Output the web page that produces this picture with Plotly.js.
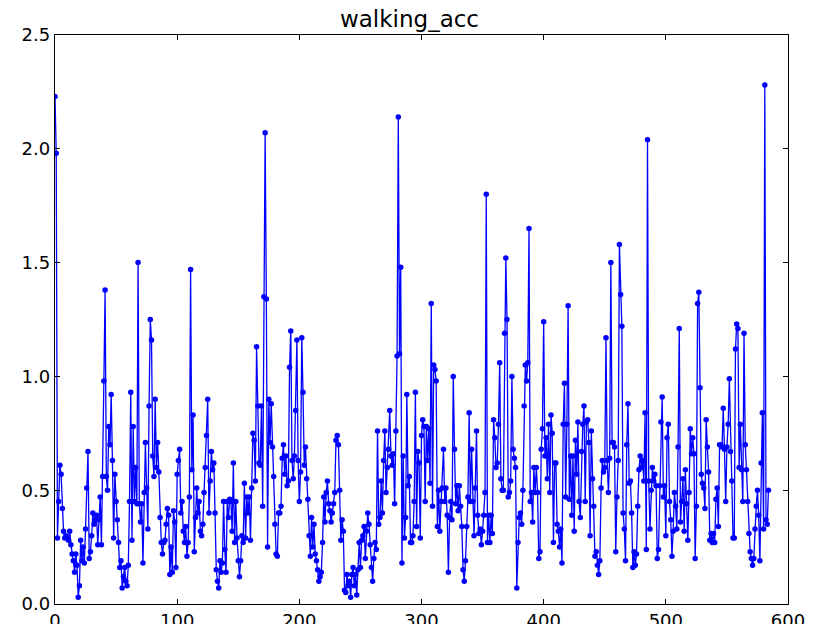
<!DOCTYPE html>
<html>
<head>
<meta charset="utf-8">
<script src="https://cdn.plot.ly/plotly-3.0.1.min.js"></script>
<style>html,body{margin:0;padding:0;background:#fff;}#chart{width:819px;height:624px;}</style>
</head>
<body>
<div id="chart"></div>
<script>
var chartTitle = "walking_acc";
var xTickVals = [0, 100, 200, 300, 400, 500, 600];
var yTickVals = [0.0, 0.5, 1.0, 1.5, 2.0, 2.5];
var accValues = [
2.23,1.98,0.29,0.45,0.61,0.57,0.42,0.32,0.29,0.30,
0.29,0.28,0.32,0.26,0.22,0.19,0.14,0.22,0.17,0.03,
0.08,0.28,0.19,0.25,0.18,0.33,0.51,0.67,0.20,0.23,
0.30,0.40,0.35,0.37,0.39,0.26,0.37,0.47,0.26,0.56,
0.98,1.38,0.56,0.50,0.78,0.70,0.92,0.63,0.29,0.57,
0.45,0.37,0.27,0.16,0.19,0.07,0.12,0.16,0.10,0.08,
0.17,0.45,0.93,0.28,0.78,0.45,0.60,0.44,1.50,0.44,
0.36,0.44,0.18,0.49,0.71,0.51,0.33,0.87,1.25,1.16,
0.65,0.56,0.90,0.60,0.71,0.58,0.38,0.27,0.22,0.27,
0.28,0.35,0.42,0.39,0.13,0.25,0.14,0.41,0.36,0.16,
0.57,0.63,0.68,0.40,0.45,0.32,0.27,0.34,0.21,0.27,
0.47,1.47,0.59,0.83,0.23,0.38,0.51,0.40,0.45,0.32,
0.30,0.35,0.49,0.60,0.74,0.90,0.40,0.54,0.67,0.59,
0.62,0.40,0.15,0.10,0.07,0.19,0.14,0.18,0.45,0.24,
0.14,0.45,0.38,0.46,0.45,0.32,0.62,0.27,0.45,0.29,
0.19,0.12,0.19,0.30,0.27,0.53,0.29,0.47,0.40,0.47,
0.28,0.51,0.75,0.72,0.54,1.13,0.87,0.62,0.61,0.87,
0.43,1.35,2.07,1.34,0.25,0.90,0.71,0.88,0.69,0.56,
0.35,0.22,0.21,0.40,0.40,0.43,0.64,0.70,0.57,0.65,
0.52,0.54,1.04,1.20,0.63,0.55,0.65,0.85,1.16,0.63,
0.45,0.58,1.17,0.93,0.61,0.69,0.55,0.46,0.30,0.21,
0.38,0.25,0.35,0.22,0.19,0.15,0.10,0.12,0.14,0.27,
0.47,0.36,0.49,0.54,0.44,0.41,0.36,0.40,0.44,0.49,
0.72,0.74,0.70,0.50,0.28,0.37,0.32,0.06,0.05,0.13,
0.08,0.10,0.03,0.13,0.16,0.08,0.13,0.04,0.15,0.27,
0.16,0.28,0.30,0.34,0.20,0.32,0.40,0.35,0.26,0.16,
0.10,0.20,0.27,0.24,0.76,0.35,0.38,0.54,0.40,0.63,
0.76,0.49,0.60,0.68,0.85,0.65,0.61,0.66,0.44,0.76,
1.09,2.14,1.10,1.48,0.18,0.65,0.29,0.38,0.92,0.52,
0.56,0.27,0.27,0.30,0.45,0.93,0.34,0.67,0.62,0.29,
0.74,0.81,0.78,0.45,0.78,0.63,0.77,0.53,1.32,0.43,
1.05,1.03,0.98,0.34,0.50,0.32,0.45,0.51,0.68,0.45,
0.51,0.39,0.14,0.38,0.45,0.37,1.00,0.68,0.44,0.52,
0.41,0.52,0.43,0.34,0.15,0.10,0.19,0.34,0.47,0.84,
0.45,0.68,0.45,0.30,0.51,0.76,0.39,0.31,0.33,0.26,
0.32,0.39,0.49,1.80,0.27,0.39,0.27,0.39,0.31,0.81,
0.73,0.60,0.62,0.79,1.06,0.55,0.50,0.50,1.19,1.52,
1.25,0.47,0.49,0.54,1.00,0.68,0.64,0.60,0.07,0.27,
0.38,0.40,0.35,0.50,0.87,1.05,0.98,1.06,1.65,0.45,
0.49,0.36,0.60,0.49,0.60,0.49,0.20,0.23,0.68,0.77,
1.24,0.65,0.73,0.55,0.79,0.49,0.83,0.75,0.27,0.62,
0.62,0.35,0.32,0.25,0.33,0.18,0.79,0.97,0.47,0.79,
1.31,0.46,0.65,0.39,0.65,0.32,0.72,0.57,0.80,0.45,
0.38,0.67,0.79,0.87,0.45,0.80,0.81,0.71,0.30,0.76,
0.55,0.43,0.21,0.23,0.17,0.13,0.19,0.51,0.63,0.58,
0.60,1.17,0.63,0.49,0.64,1.50,0.71,0.71,0.69,0.23,
0.47,0.63,1.58,1.36,1.22,0.40,0.33,0.19,0.70,0.88,
0.53,0.54,0.40,0.16,0.23,0.17,0.22,0.43,0.59,0.65,
0.60,0.63,0.54,0.84,0.24,2.04,0.54,0.33,0.50,0.60,
0.54,0.57,0.52,0.20,0.24,0.52,0.80,0.91,0.47,0.52,
0.30,0.73,0.79,0.45,0.37,0.21,0.32,0.49,0.43,0.33,
0.69,1.21,0.36,0.45,0.55,0.32,0.59,0.44,0.28,0.49,
0.77,0.66,0.73,0.66,0.20,0.43,1.32,1.37,0.95,0.57,
0.53,0.51,0.42,0.81,0.69,0.58,0.28,0.31,0.27,0.31,
0.27,0.46,0.51,0.34,0.70,0.70,0.69,0.86,0.68,0.45,
0.69,0.79,0.99,0.67,0.54,0.29,0.29,1.12,1.23,1.21,
0.60,0.79,0.59,0.45,1.19,0.70,0.59,0.45,0.31,0.23,
0.20,0.17,0.20,0.33,0.43,0.50,0.39,0.19,0.62,0.84,
0.33,2.28,0.37,0.35,0.50
];
var sampleIndex = accValues.map(function(_, i){ return i; });

var trace = {
  x: sampleIndex,
  y: accValues,
  type: 'scatter',
  mode: 'lines+markers',
  line: {color: '#0000ff', width: 1.3},
  marker: {color: '#0000ff', size: 5.5, line: {width: 0}},
  hoverinfo: 'x+y'
};

var axisFont = {family: 'DejaVu Sans, sans-serif', size: 18, color: '#000'};
var layout = {
  width: 819, height: 624,
  margin: {l: 55, r: 31, t: 35, b: 20, pad: 0},
  paper_bgcolor: '#fff', plot_bgcolor: '#fff',
  showlegend: false,
  title: {text: chartTitle, font: {family: 'DejaVu Sans, sans-serif', size: 23, color: '#000'}, x: 0.5, xanchor: 'center', y: 0.982, yanchor: 'top'},
  xaxis: {
    range: [0, 600], tickvals: xTickVals, ticktext: xTickVals.map(String),
    showgrid: false, zeroline: false, showline: true, linecolor: '#000', linewidth: 1.2,
    mirror: 'ticks', ticks: 'inside', ticklen: 5, tickcolor: '#000', tickwidth: 1,
    tickfont: axisFont
  },
  yaxis: {
    range: [0, 2.5], tickvals: yTickVals, ticktext: yTickVals.map(function(v){return v.toFixed(1);}),
    showgrid: false, zeroline: false, showline: true, linecolor: '#000', linewidth: 1.2,
    mirror: 'ticks', ticks: 'inside', ticklen: 5, tickcolor: '#000', tickwidth: 1,
    tickfont: axisFont
  }
};

Plotly.newPlot('chart', [trace], layout, {displayModeBar: false, staticPlot: true});
</script>
</body>
</html>
